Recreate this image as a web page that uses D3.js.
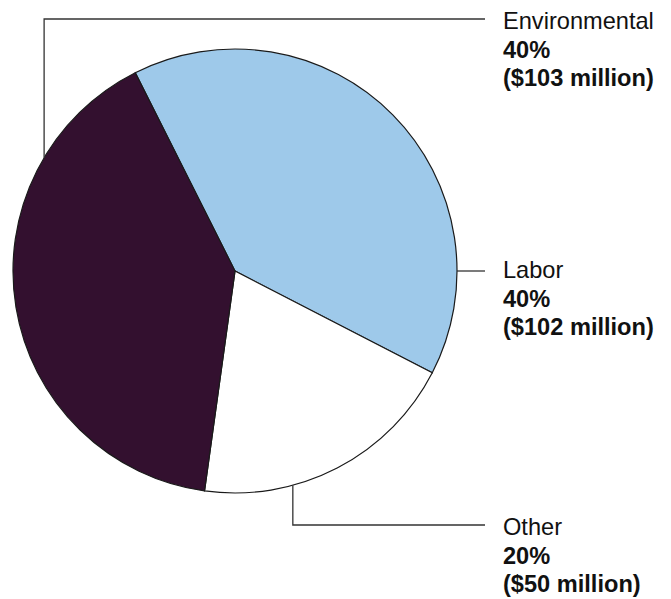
<!DOCTYPE html>
<html>
<head>
<meta charset="utf-8">
<script src="https://cdn.jsdelivr.net/npm/d3@7"></script>
<style>
  body { margin: 0; background: #fff; }
  text { font-family: "Liberation Sans", Arial, sans-serif; font-size: 23.6px; fill: #111; }
  .bold { font-weight: bold; }
</style>
</head>
<body>
<script>
// slice order as drawn clockwise
const categories = ['Labor', 'Other', 'Environmental'];
const amounts = [102, 50, 103];          // $ million
const percents = ['40%', '20%', '40%'];
const colors = ['#9ec9ea', '#ffffff', '#33102f'];

const width = 671, height = 599;
const cx = 235, cy = 271, radius = 222;
const startDeg = -26.7;

// where each leader touches the pie (deg from 12 o'clock) and the label's first baseline
const leaders = {
  Labor: { angle: 90, labelY: 278 },
  Other: { angle: 164.9, labelY: 535 },
  Environmental: { angle: -59.3, labelY: 29 }
};
const labelX = 503, lineEndX = 485;

const svg = d3.select('body')
  .append('svg')
  .attr('width', width)
  .attr('height', height);

const data = categories.map((c, i) => ({ name: c, value: amounts[i], pct: percents[i], color: colors[i] }));

const pie = d3.pie()
  .sort(null)
  .value(d => d.value)
  .startAngle(startDeg * Math.PI / 180)
  .endAngle(startDeg * Math.PI / 180 + 2 * Math.PI);

const arc = d3.arc().innerRadius(0).outerRadius(radius);

const g = svg.append('g').attr('transform', `translate(${cx},${cy})`);

g.selectAll('path')
  .data(pie(data))
  .enter()
  .append('path')
  .attr('d', arc)
  .attr('fill', d => d.data.color)
  .attr('stroke', '#1a1a1a')
  .attr('stroke-width', 1.2);

// leader lines
data.forEach(function (d) {
  const L = leaders[d.name];
  const a = L.angle * Math.PI / 180;
  const px = cx + radius * Math.sin(a);
  const py = cy - radius * Math.cos(a);
  const ly = L.labelY - 10;
  let pts;
  if (d.name === 'Labor') {
    pts = [[px, py], [lineEndX, py]];
  } else {
    pts = [[px, py], [px, ly], [lineEndX, ly]];
  }
  svg.append('path')
    .attr('d', d3.line()(pts))
    .attr('fill', 'none')
    .attr('stroke', '#333')
    .attr('stroke-width', 1.3);

  const t = svg.append('text').attr('x', labelX).attr('y', L.labelY);
  t.append('tspan').attr('x', labelX).text(d.name);
  t.append('tspan').attr('x', labelX).attr('dy', 28.7).attr('class', 'bold').text(d.pct);
  t.append('tspan').attr('x', labelX).attr('dy', 28.7).attr('class', 'bold')
    .text(`($${d.value} million)`);
});
</script>
</body>
</html>
